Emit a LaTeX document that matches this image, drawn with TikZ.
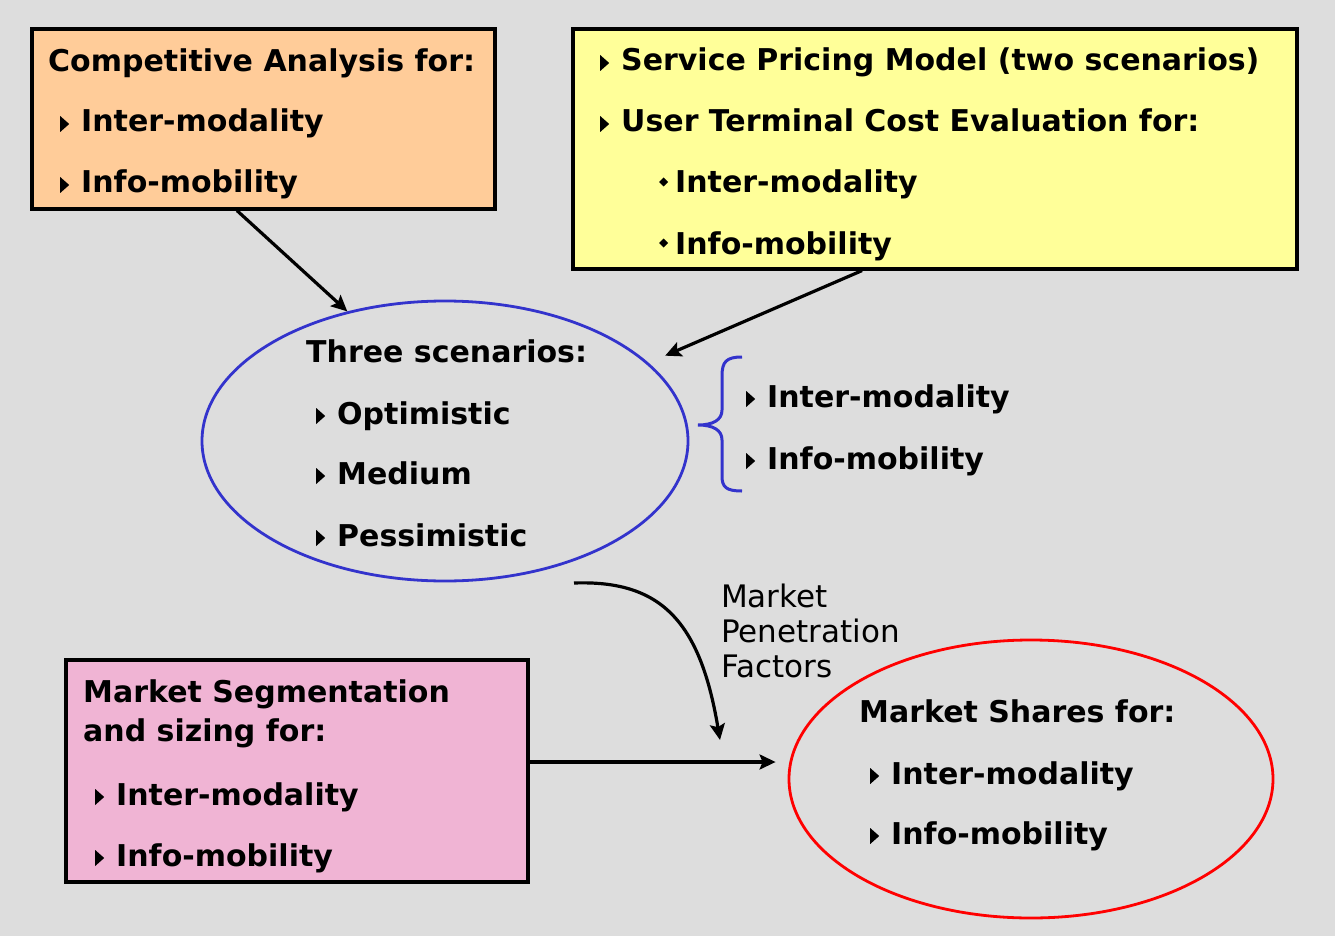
\documentclass[tikz,border=0pt]{standalone}
\usepackage{fontspec}
\setmainfont{DejaVu Sans}
\usetikzlibrary{arrows.meta,shapes.geometric}
\definecolor{bg}{RGB}{221,221,221}
\definecolor{peach}{RGB}{255,204,153}
\definecolor{lemon}{RGB}{255,255,153}
\definecolor{rose}{RGB}{240,180,212}
\definecolor{ovalblue}{RGB}{51,51,204}
\definecolor{ovalred}{RGB}{255,0,0}
% small list markers
\newcommand\tri{\tikz[x=1pt,y=1pt,baseline=0pt]\fill (0,0)--(0,16)--(9,8)--cycle;\hspace{12pt}}
\newcommand\dia{\tikz[x=1pt,y=1pt,baseline=0pt]\fill (0,11)--(4.5,6.5)--(9,11)--(4.5,15.5)--cycle;\hspace{7pt}}
\begin{document}
\begin{tikzpicture}[x=1pt,y=-1pt,
  txt/.style={anchor=base west,inner sep=0pt,font=\fontsize{30}{36}\selectfont\bfseries},
  plain/.style={anchor=base west,inner sep=0pt,font=\fontsize{31}{36}\selectfont},
  box/.style={draw=black,line width=3.2pt,inner sep=0pt},
  oval/.style={ellipse,line width=2.8pt,inner sep=0pt},
  arr/.style={line width=3.2pt,-{Stealth[length=16pt,width=15pt,inset=3pt]}}]
\fill[bg] (0,0) rectangle (1335,936);
\useasboundingbox (0,0) rectangle (1335,936);

% boxes and ovals
\node[box,fill=peach,minimum width=463pt,minimum height=180pt] (ca) at (263.5,119) {};
\node[box,fill=lemon,minimum width=724pt,minimum height=240pt] (sp) at (935,149) {};
\node[box,fill=rose,minimum width=462pt,minimum height=222pt] (ms) at (297,771) {};
\node[oval,draw=ovalblue,minimum width=486pt,minimum height=280pt] (sc) at (445,441) {};
\node[oval,draw=ovalred,minimum width=484pt,minimum height=278pt] (sh) at (1031,779) {};

% competitive analysis
\node[txt] (ca1) at (48,72) {Competitive Analysis for:};
\node[txt] (ca2) at (60,132) {\tri Inter-modality};
\node[txt] (ca3) at (60,193) {\tri Info-mobility};

% pricing and terminal cost
\node[txt] (sp1) at (600,71) {\tri Service Pricing Model (two scenarios)};
\node[txt] (sp2) at (600,132) {\tri User Terminal Cost Evaluation for:};
\node[txt] (sp3) at (659,193) {\dia Inter-modality};
\node[txt] (sp4) at (659,254) {\dia Info-mobility};

% scenarios
\node[txt] (sc1) at (306,362) {Three scenarios:};
\node[txt] (sc2) at (316,424) {\tri Optimistic};
\node[txt] (sc3) at (316,484) {\tri Medium};
\node[txt] (sc4) at (316,546) {\tri Pessimistic};

% brace and its items
\draw[ovalblue,line width=3pt]
  (742,357) .. controls (726,357) and (722,362) .. (722,376) -- (722,410)
  .. controls (722,420) and (713,425) .. (698,425)
  .. controls (713,425) and (722,430) .. (722,440) -- (722,476)
  .. controls (722,487) and (726,491) .. (742,491);
\node[txt] (br1) at (746,407) {\tri Inter-modality};
\node[txt] (br2) at (746,469) {\tri Info-mobility};

% market segmentation
\node[txt] (ms1) at (83,702) {Market Segmentation};
\node[txt] (ms2) at (83,741) {and sizing for:};
\node[txt] (ms3) at (95,805) {\tri Inter-modality};
\node[txt] (ms4) at (95,866) {\tri Info-mobility};

% market shares
\node[txt] (sh1) at (859,722) {Market Shares for:};
\node[txt] (sh2) at (870,784) {\tri Inter-modality};
\node[txt] (sh3) at (870,844) {\tri Info-mobility};

% penetration factors label
\node[plain] (pf1) at (721,607) {Market};
\node[plain] (pf2) at (721,642) {Penetration};
\node[plain] (pf3) at (721,677) {Factors};

% connectors
\coordinate (pfa) at (574,583);
\coordinate (pfb) at (720,740);
\draw[arr] ([xshift=-26.5pt]ca.south) -- (sc.127);
\draw[arr,shorten >=18pt] ([xshift=-73pt]sp.south) -- (sc.21);
\draw[arr] (pfa) .. controls (660,580) and (700,620) .. (pfb);
\draw[arr,shorten >=12pt] ([yshift=9pt]ms.east) -- ([yshift=17pt]sh.west);
\end{tikzpicture}
\end{document}
